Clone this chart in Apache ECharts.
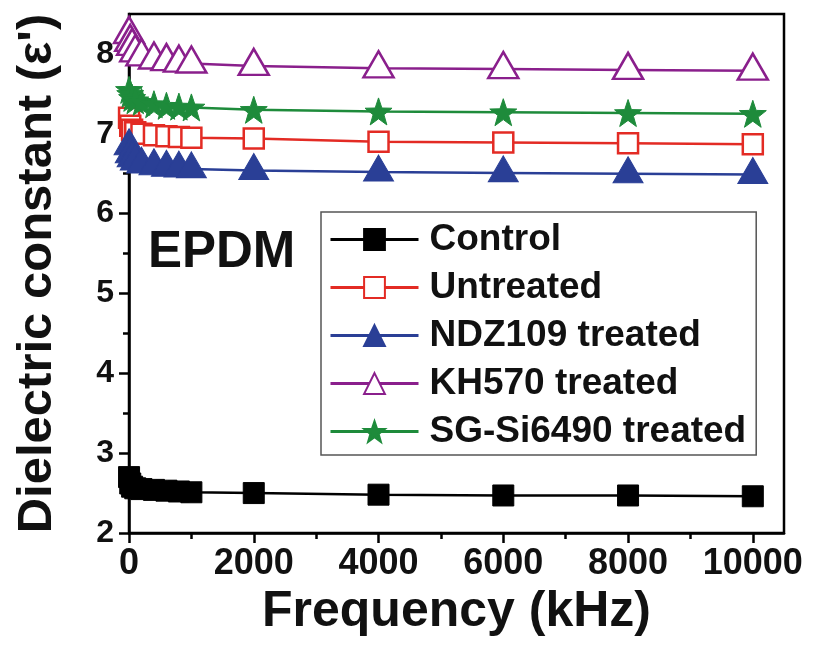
<!DOCTYPE html>
<html>
<head>
<meta charset="utf-8">
<script src="https://cdn.jsdelivr.net/npm/echarts@6/dist/echarts.min.js"></script>
<style>html,body{margin:0;padding:0;background:#fff;}#c{width:814px;height:646px;}</style>
</head>
<body>
<div id="c"></div>
<script>
// ---- data ----
var freq = [1, 20, 50, 100, 200, 400, 600, 800, 1000, 2000, 4000, 6000, 8000, 10000];
var control   = [2.70, 2.62, 2.58, 2.56, 2.55, 2.54, 2.53, 2.52, 2.51, 2.50, 2.48, 2.47, 2.47, 2.46];
var untreated = [7.20, 7.10, 7.05, 7.02, 7.00, 6.98, 6.97, 6.96, 6.95, 6.94, 6.90, 6.89, 6.88, 6.87];
var ndz109    = [6.85, 6.75, 6.70, 6.66, 6.62, 6.60, 6.58, 6.57, 6.56, 6.54, 6.52, 6.51, 6.50, 6.49];
var kh570     = [8.25, 8.15, 8.10, 8.02, 7.97, 7.93, 7.91, 7.89, 7.88, 7.85, 7.82, 7.81, 7.80, 7.79];
var sgsi6490  = [7.55, 7.50, 7.45, 7.42, 7.40, 7.37, 7.35, 7.34, 7.33, 7.30, 7.28, 7.27, 7.26, 7.25];
var seriesNames = ['Control', 'Untreated', 'NDZ109 treated', 'KH570 treated', 'SG-Si6490 treated'];
var xMajorTicks = [0, 2000, 4000, 6000, 8000, 10000];
var xMinorTicks = [1000, 3000, 5000, 7000, 9000];
var yMajorTicks = [2, 3, 4, 5, 6, 7, 8];
var yMinorTicks = [2.5, 3.5, 4.5, 5.5, 6.5, 7.5];

function pairs(ys) { return freq.map(function (f, i) { return [f, ys[i]]; }); }

var FONT = '"Liberation Sans", Arial, sans-serif';
var starPath = 'path://M50,0 L61.76,33.82 L97.55,34.55 L69.02,56.18 L79.39,90.45 L50,70 L20.61,90.45 L30.98,56.18 L2.45,34.55 L38.24,33.82 Z';

var chart = echarts.init(document.getElementById('c'), null, { renderer: 'canvas' });

var gridL = 129, gridR = 30, gridT = 14, gridB = 113;

function mkSeries(name, ys, color, symbol, size, filled, offset) {
  return {
    name: name, type: 'line', data: pairs(ys),
    xAxisIndex: 0, yAxisIndex: 0,
    symbol: symbol, symbolSize: size, symbolOffset: offset || [0, 0],
    showAllSymbol: true,
    lineStyle: { color: color, width: 2.5 },
    itemStyle: filled ? { color: color, borderColor: color, borderWidth: 1 }
                      : { color: '#ffffff', borderColor: color, borderWidth: 2.5 },
    emphasis: { disabled: true },
    animation: false
  };
}

var option = {
  backgroundColor: '#ffffff',
  animation: false,
  grid: { left: gridL, right: gridR, top: gridT, bottom: gridB, show: true, borderColor: '#000', borderWidth: 2.5, backgroundColor: 'transparent' },
  xAxis: [
    {
      type: 'value', min: 0, max: 10500, interval: 2000,
      axisLine: { show: true, lineStyle: { color: '#000', width: 2.5 } },
      axisTick: { show: true, length: 10, inside: false, lineStyle: { color: '#000', width: 2.5 }, customValues: xMajorTicks },
      axisLabel: { show: true, fontSize: 36, fontWeight: 'bold', fontFamily: FONT, color: '#111', margin: 13, customValues: xMajorTicks,
                   formatter: function (v) { return String(v); } },
      splitLine: { show: false },
      name: 'Frequency (kHz)', nameLocation: 'middle', nameGap: 52,
      nameTextStyle: { fontSize: 50, fontWeight: 'bold', fontFamily: FONT, color: '#111' }
    },
    {
      type: 'value', min: 0, max: 10500, position: 'bottom',
      axisLine: { show: false },
      axisTick: { show: true, length: 6, lineStyle: { color: '#000', width: 2.5 }, customValues: xMinorTicks },
      axisLabel: { show: false },
      splitLine: { show: false }
    }
  ],
  yAxis: [
    {
      type: 'value', min: 2, max: 8.5, interval: 1,
      axisLine: { show: true, lineStyle: { color: '#000', width: 2.5 } },
      axisTick: { show: true, length: 10, lineStyle: { color: '#000', width: 2.5 }, customValues: yMajorTicks },
      axisLabel: { show: true, fontSize: 32, fontWeight: 'bold', fontFamily: FONT, color: '#111', margin: 15, customValues: yMajorTicks },
      splitLine: { show: false },
      name: "Dielectric constant (\u03b5')", nameLocation: 'middle', nameGap: 67,
      nameTextStyle: { fontSize: 49, fontWeight: 'bold', fontFamily: FONT, color: '#111' }
    },
    {
      type: 'value', min: 2, max: 8.5, position: 'left',
      axisLine: { show: false },
      axisTick: { show: true, length: 6, lineStyle: { color: '#000', width: 2.5 }, customValues: yMinorTicks },
      axisLabel: { show: false },
      splitLine: { show: false }
    }
  ],
  legend: {
    orient: 'vertical', left: 321, top: 212,
    padding: [9, 10, 5, 8],
    borderColor: '#555', borderWidth: 1.5,
    itemWidth: 88, itemHeight: 26, itemGap: 11,
    data: seriesNames,
    lineStyle: { width: 3 },
    textStyle: { fontSize: 37, fontWeight: 'bold', fontFamily: FONT, color: '#111', lineHeight: 32, padding: [0, 0, 0, 6] },
    selectedMode: false
  },
  graphic: [
    { type: 'text', left: 148, top: 227, style: { text: 'EPDM', font: 'bold 51px "Liberation Sans", Arial, sans-serif', fill: '#111' } }
  ],
  series: [
    mkSeries(seriesNames[0], control, '#000000', 'rect', 21, true),
    mkSeries(seriesNames[1], untreated, '#e32b24', 'rect', 20, false),
    mkSeries(seriesNames[2], ndz109, '#2a3f96', 'triangle', [30, 26], true, [0, -4]),
    mkSeries(seriesNames[3], kh570, '#8a1f8c', 'triangle', [30, 26], false, [0, -4]),
    mkSeries(seriesNames[4], sgsi6490, '#1e8b3b', starPath, 27, true)
  ]
};
chart.setOption(option);
</script>
</body>
</html>
